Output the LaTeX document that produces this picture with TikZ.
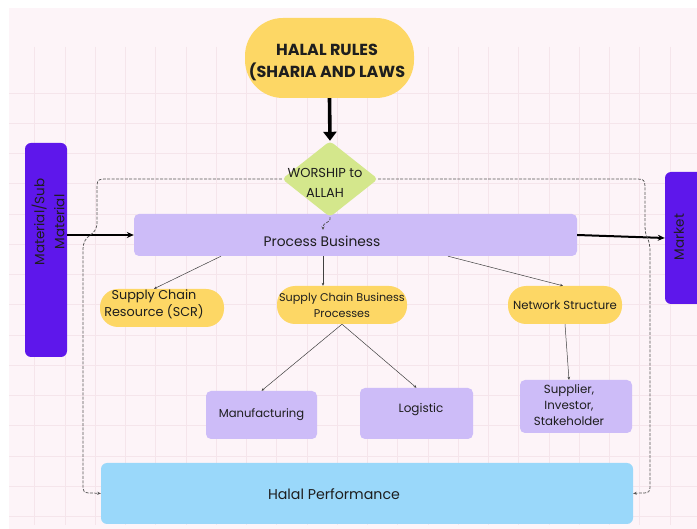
\documentclass[tikz,border=0pt]{standalone}
\usepackage{fontspec}
\setmainfont{Poppins}
\usetikzlibrary{shapes.geometric,arrows.meta,calc}
\definecolor{bgpink}{HTML}{FDF4F8}
\definecolor{gridpink}{HTML}{F5E5EB}
\definecolor{yel}{HTML}{FDD765}
\definecolor{grn}{HTML}{D4E78C}
\definecolor{vio}{HTML}{5E17EB}
\definecolor{lav}{HTML}{CDBCF8}
\definecolor{sky}{HTML}{9AD8FA}
\definecolor{ink}{HTML}{1E1E1E}
\newcommand{\fs}[2]{\fontsize{#1}{#2}\selectfont}
\begin{document}
\begin{tikzpicture}[x=1pt,y=-1pt,
  box/.style={draw=none,rectangle,inner sep=0pt,anchor=center,text=ink,align=center},
  pill/.style={box,fill=yel,rounded corners=18pt},
  lavbox/.style={box,fill=lav,rounded corners=5pt},
  viobox/.style={box,fill=vio,rounded corners=6pt},
  thinline/.style={draw=ink!85,line width=0.5pt,-{Stealth[length=3pt,width=2.6pt]}},
  dashline/.style={draw=ink!75,line width=0.75pt,dash pattern=on 3pt off 1.4pt,-{Stealth[length=3.5pt,width=3pt]}},
  lbl/.style={inner sep=0pt,text=ink,align=center,anchor=center}]
\useasboundingbox (0,0) rectangle (697,529);
% background
\fill[white] (0,0) rectangle (697,529);
\fill[bgpink] (9,8) rectangle (700,532);
\foreach \k in {1,...,22} {\draw[gridpink,line width=0.8pt] ({4.4+30.25*\k},47) -- ({4.4+30.25*\k},525);}
\foreach \k in {0,...,14} {\draw[gridpink,line width=0.8pt] (9,{93+30.25*\k}) -- (697,{93+30.25*\k});}

% nodes
\node[pill,rounded corners=38pt,minimum width=169pt,minimum height=80pt] (hr) at (329.5,58) {};
\node[lbl,font=\bfseries\fs{16}{22}] (hrt) at (327,62) {HALAL RULES\\(SHARIA AND LAWS};
\node[viobox,minimum width=42pt,minimum height=214pt] (mat) at (46,250) {};
\node[lbl,rotate=90,font=\fs{13.5}{20}] (matt) at (48,222) {Material/Sub\\Material};
\node[viobox,minimum width=50pt,minimum height=132pt] (mkt) at (690,238) {};
\node[lbl,rotate=90,font=\fs{13.5}{15}] (mktt) at (679,237) {Market};
\node[lavbox,minimum width=443pt,minimum height=42pt] (pb) at (355.5,235) {};
\node[lbl,font=\fs{13.8}{15}] (pbt) at (322,241) {Process Business};
\node[diamond,draw=none,fill=grn,inner sep=0pt,minimum width=96pt,minimum height=76pt,rounded corners=4pt] (w) at (330,179) {};
\node[lbl,font=\fs{13}{20}] (wt) at (325,183) {WORSHIP to\\ALLAH};
\node[pill,minimum width=124pt,minimum height=38pt] (scr) at (162,308) {};
\node[lbl,font=\fs{12.8}{17}] (scrt) at (154,304) {Supply Chain\\Resource (SCR)};
\node[pill,minimum width=130pt,minimum height=38pt,font=\fs{11.2}{16}] (scbp) at (342,305) {Supply Chain Business\\Processes};
\node[pill,minimum width=114pt,minimum height=38pt,font=\fs{11.7}{15}] (ns) at (565,305) {Network Structure};
\node[lavbox,minimum width=111pt,minimum height=48pt,font=\fs{11.6}{15}] (man) at (261.5,415) {Manufacturing};
\node[lavbox,minimum width=113pt,minimum height=51pt] (log) at (416.5,413.5) {};
\node[lbl,font=\fs{12}{15}] (logt) at (421,410) {Logistic};
\node[lavbox,minimum width=112pt,minimum height=53pt] (sup) at (576,406.5) {};
\node[lbl,font=\fs{11.8}{16}] (supt) at (569,405) {Supplier,\\Investor,\\Stakeholder};
\node[box,fill=sky,rounded corners=6pt,minimum width=532pt,minimum height=61pt] (hp) at (367,493.5) {};
\node[lbl,font=\fs{14.2}{15}] (hpt) at (334,494) {Halal Performance};

% main arrows
\draw[line width=3.6pt,-{Triangle[length=9pt,width=13pt]}] (hr.south) -- (w.north);
\draw[line width=1.6pt,-{Stealth[length=7pt,width=6pt]}] (mat.east |- pb.west) -- (pb.west);
\draw[line width=2pt,-{Stealth[length=7pt,width=6pt]}] (pb.east) -- (mkt.west |- 0,238);

% thin connectors
\draw[thinline] ([xshift=-134.5pt]pb.south) -- ([xshift=-8pt]scr.north);
\draw[thinline] ([xshift=-32.5pt]pb.south) -- ([xshift=-19pt]scbp.north);
\draw[thinline] ([xshift=92.5pt]pb.south) -- ([xshift=-2pt]ns.north);
\draw[thinline] (scbp.south) -- (man.north);
\draw[thinline] (scbp.south) -- (log.north);
\draw[thinline] (ns.south) -- ([xshift=-7pt]sup.north);

% dashed feedback loops
\coordinate (wtip) at (323,230);
\draw[dashline] (w.south) .. controls (331,224) and (323,221) .. (wtip);
\draw[dashline] (w.west) -- (109,179) .. controls (97,179) .. (97,191) -- (97,222) .. controls (97,238) and (83,232) .. (83,250) -- (83,483) .. controls (83,493) .. (93,493) -- (hp.west);
\draw[dashline] (w.east) -- (633,179) .. controls (645,179) .. (645,191) -- (645,226) .. controls (645,240) and (650,236) .. (650,252) -- (650,483) .. controls (650,493) .. (640,493) -- (hp.east);
\end{tikzpicture}
\end{document}
